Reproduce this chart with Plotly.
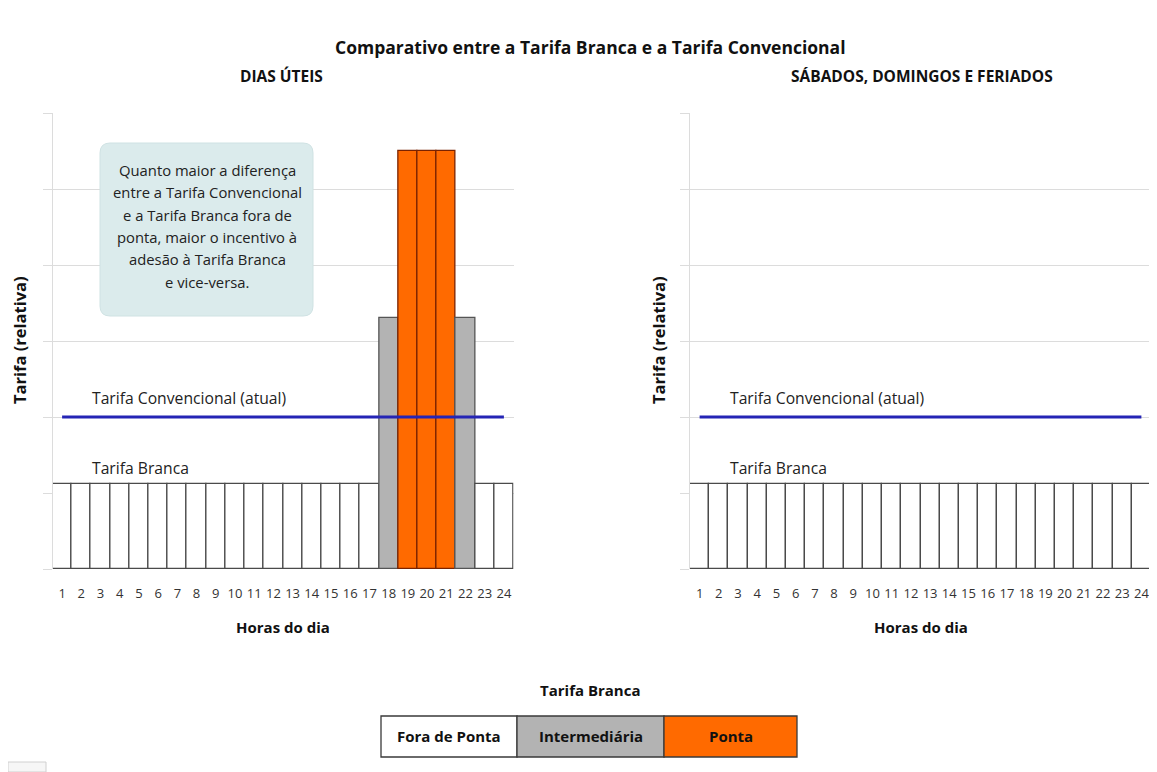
import plotly.graph_objects as go

# ---------------- data ----------------
hours = list(range(1, 25))
hour_labels = [str(h) for h in hours]

weekday_tariff = [1.12, 1.12, 1.12, 1.12, 1.12, 1.12, 1.12, 1.12, 1.12, 1.12, 1.12, 1.12,
                  1.12, 1.12, 1.12, 1.12, 1.12, 3.3, 5.5, 5.5, 5.5, 3.3, 1.12, 1.12]
weekday_period = ["Fora de Ponta"] * 17 + ["Intermediária", "Ponta", "Ponta", "Ponta",
                                           "Intermediária", "Fora de Ponta", "Fora de Ponta"]

weekend_tariff = [1.12, 1.12, 1.12, 1.12, 1.12, 1.12, 1.12, 1.12, 1.12, 1.12, 1.12, 1.12,
                  1.12, 1.12, 1.12, 1.12, 1.12, 1.12, 1.12, 1.12, 1.12, 1.12, 1.12, 1.12]
weekend_period = ["Fora de Ponta"] * 24

conventional = [2.0, 2.0, 2.0, 2.0, 2.0, 2.0, 2.0, 2.0, 2.0, 2.0, 2.0, 2.0,
                2.0, 2.0, 2.0, 2.0, 2.0, 2.0, 2.0, 2.0, 2.0, 2.0, 2.0, 2.0]

periods = ["Fora de Ponta", "Intermediária", "Ponta"]

# ---------------- styles ----------------
FILL = {"Fora de Ponta": "#ffffff", "Intermediária": "#b3b3b3", "Ponta": "#ff6a00"}
EDGE = {"Fora de Ponta": "#4a4a4a", "Intermediária": "#555555", "Ponta": "#7a2200"}
FONT = "Open Sans, Noto Sans, sans-serif"
OFF = 8                      # page body margin
W, H = 1157 - OFF, 772 - OFF


def px_x(s):
    return (s - OFF) / W


def px_y(s):
    return 1 - (s - OFF) / H


fig = go.Figure()

for tariff, period, xa, ya in [(weekday_tariff, weekday_period, "x", "y"),
                               (weekend_tariff, weekend_period, "x2", "y2")]:
    fig.add_trace(go.Bar(
        x=hours, y=tariff, xaxis=xa, yaxis=ya,
        marker=dict(color=[FILL[p] for p in period],
                    line=dict(color=[EDGE[p] for p in period], width=1.3)),
        showlegend=False, hoverinfo="x+y"))
    fig.add_trace(go.Scatter(
        x=hours, y=conventional, xaxis=xa, yaxis=ya, mode="lines",
        line=dict(color="#2525b5", width=3), showlegend=False))

xdom1 = [px_x(52.5), px_x(513.5)]
xdom2 = [px_x(690), px_x(1151)]
ydom = [px_y(569), px_y(113)]

xcommon = dict(range=[0.5, 24.5], tickmode="array", tickvals=hours, ticktext=hour_labels,
               showgrid=False, zeroline=False, showline=False, ticks="",
               tickfont=dict(family=FONT, size=13, color="#333333"),
               ticklabelstandoff=15, fixedrange=True)
ycommon = dict(range=[0, 6], tickmode="array", tickvals=[0, 1, 2, 3, 4, 5, 6],
               showticklabels=False, showgrid=True, gridcolor="#dcdcdc", gridwidth=1,
               zeroline=False, showline=True, linecolor="#dcdcdc", linewidth=1,
               ticks="outside", ticklen=9, tickcolor="#dcdcdc", fixedrange=True)

fig.update_layout(
    width=W, height=H,
    margin=dict(l=0, r=0, t=0, b=0),
    paper_bgcolor="white", plot_bgcolor="white",
    bargap=0,
    xaxis=dict(domain=xdom1, anchor="y", **xcommon),
    yaxis=dict(domain=ydom, anchor="x", **ycommon),
    xaxis2=dict(domain=xdom2, anchor="y2", **xcommon),
    yaxis2=dict(domain=ydom, anchor="x2", **ycommon),
    font=dict(family=FONT, color="#222222"),
)

ann = []


def text(x, y, s, size=13, bold=False, xanchor="center", angle=0, color="#222222"):
    ann.append(dict(x=px_x(x), y=px_y(y), xref="paper", yref="paper",
                    text=("<b>%s</b>" % s) if bold else s,
                    showarrow=False, xanchor=xanchor, yanchor="middle", textangle=angle,
                    font=dict(family=FONT, size=size, color=color)))


text(590, 47, "Comparativo entre a Tarifa Branca e a Tarifa Convencional", size=17.5, bold=True, color="#111111")
text(281, 76, "DIAS ÚTEIS", size=15.5, bold=True, color="#111111")
text(922, 76, "SÁBADOS, DOMINGOS E FERIADOS", size=15.5, bold=True, color="#111111")

for cx, ax_x in [(283, 19), (921, 658)]:
    text(cx, 627, "Horas do dia", size=15, bold=True, color="#111111")
    text(ax_x, 340, "Tarifa (relativa)", size=16.5, bold=True, angle=-90, color="#111111")

for left in [90, 728]:
    text(left, 398, "Tarifa Convencional (atual)", size=15.7, xanchor="left", color="#222222")
    text(left, 468, "Tarifa Branca", size=15.7, xanchor="left", color="#222222")

# info box text
box_lines = ["Quanto maior a diferença", "entre a Tarifa Convencional", "e a Tarifa Branca fora de",
             "ponta, maior o incentivo à", "adesão à Tarifa Branca", "e vice-versa."]
for i, line in enumerate(box_lines):
    text(207, 170 + i * 22.3, line, size=14.8, color="#222222")

# legend
text(590, 690, "Tarifa Branca", size=15, bold=True, color="#111111")
leg_edges = [381, 517, 664, 797]
for i, p in enumerate(periods):
    text((leg_edges[i] + leg_edges[i + 1]) / 2, 736, p, size=15, bold=True, color="#111111")

fig.update_layout(annotations=ann)

shapes = []
# rounded info box
x0, x1, y0, y1, r = px_x(100), px_x(313), px_y(143), px_y(316), 10
rx, ry = r / W, r / H
path = (f"M {x0+rx},{y0} L {x1-rx},{y0} Q {x1},{y0} {x1},{y0-ry} "
        f"L {x1},{y1+ry} Q {x1},{y1} {x1-rx},{y1} L {x0+rx},{y1} Q {x0},{y1} {x0},{y1+ry} "
        f"L {x0},{y0-ry} Q {x0},{y0} {x0+rx},{y0} Z")
shapes.append(dict(type="path", path=path, xref="paper", yref="paper",
                   fillcolor="#dbebec", line=dict(color="#cfe2e3", width=1), layer="above"))

for i, p in enumerate(periods):
    shapes.append(dict(type="rect", xref="paper", yref="paper",
                       x0=px_x(leg_edges[i]), x1=px_x(leg_edges[i + 1]),
                       y0=px_y(757), y1=px_y(716),
                       fillcolor=FILL[p], line=dict(color="#3a3a3a", width=1.3), layer="below"))

# small grey artifact bottom-left
shapes.append(dict(type="rect", xref="paper", yref="paper", x0=px_x(8), x1=px_x(46),
                   y0=px_y(772), y1=px_y(762), fillcolor="#f6f6f6",
                   line=dict(color="#d0d0d0", width=1)))

fig.update_layout(shapes=shapes)

fig.write_html("out.html")
